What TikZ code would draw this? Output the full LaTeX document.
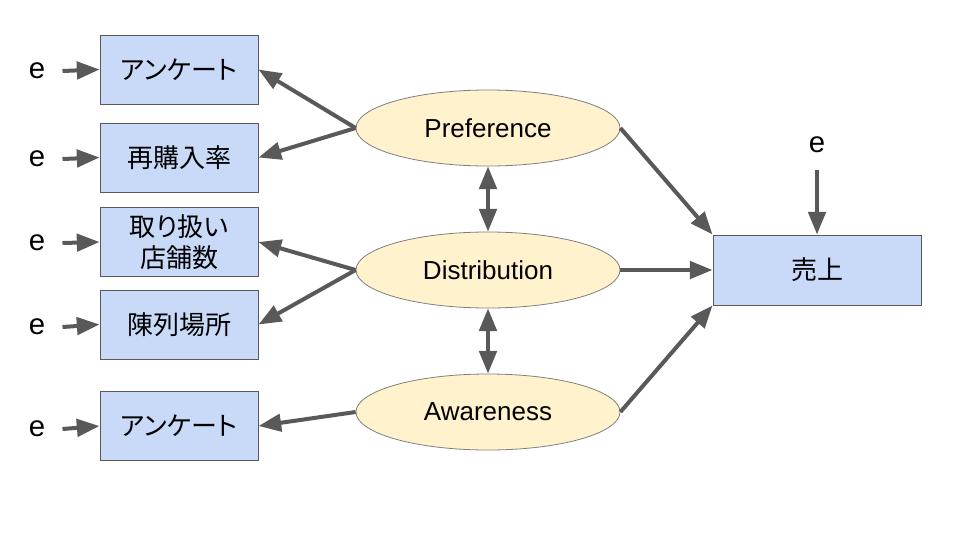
\documentclass[tikz,border=0pt]{standalone}
\usepackage{fontspec}
\setmainfont{Liberation Sans}
\newfontfamily\jpfont[RawFeature=+palt]{Noto Sans CJK JP}
\usetikzlibrary{arrows.meta,shapes.geometric}
\definecolor{boxfill}{HTML}{C9DAF8}
\definecolor{ellfill}{HTML}{FFF2CC}
\definecolor{arr}{HTML}{595959}
\definecolor{ellline}{HTML}{7F7F7F}
\tikzset{
  obsbox/.style={draw=arr, line width=0.75pt, fill=boxfill, minimum width=118.5pt, minimum height=51.75pt, inner sep=0pt, align=center, font=\fontsize{19.5}{23}\selectfont\jpfont},
  salesbox/.style={obsbox, minimum width=156pt, minimum height=52.5pt},
  latent/.style={ellipse, draw=ellline, line width=0.6pt, fill=ellfill, minimum width=198pt, minimum height=57pt, inner sep=0pt, font=\fontsize{19.5}{22}\selectfont},
  elab/.style={inner sep=0pt, outer sep=13pt, font=\fontsize{22}{24}\selectfont},
  link/.style={draw=arr, line width=3pt, -{Triangle[length=17pt,width=13pt]}},
  dlink/.style={draw=arr, line width=3pt, {Triangle[length=17pt,width=13pt]}-{Triangle[length=17pt,width=13pt]}}
}
\begin{document}
\begin{tikzpicture}[x=0.75pt,y=-0.75pt]
\useasboundingbox (0,0) rectangle (960,540);
\node[obsbox] (b1) at (179,69.5) {アンケート};
\node[obsbox] (b2) at (179,157.5) {再購入率};
\node[obsbox] (b3) at (179,242) {取り扱い\\店舗数};
\node[obsbox] (b4) at (179,324.5) {陳列場所};
\node[obsbox] (b5) at (179,426) {アンケート};
\node[salesbox] (s) at (817,270) {売上};
\node[latent] (pref) at (488,128) {Preference};
\node[latent] (dist) at (488,270) {Distribution};
\node[latent] (aw) at (488,412) {Awareness};
\node[elab] (e1) at (37,71) {e};
\node[elab] (e2) at (37,159) {e};
\node[elab] (e3) at (37,243) {e};
\node[elab] (e4) at (37,327) {e};
\node[elab] (e5) at (37,429) {e};
\node[elab] (es) at (817,145) {e};
\draw[link] (e1.east) -- (b1.west);
\draw[link] (e2.east) -- (b2.west);
\draw[link] (e3.east) -- (b3.west);
\draw[link] (e4.east) -- (b4.west);
\draw[link] (e5.east) -- (b5.west);
\draw[link] (es.south) -- (s.north);
\draw[link] (pref.west) -- (b1.east);
\draw[link] (pref.west) -- (b2.east);
\draw[link] (dist.west) -- (b3.east);
\draw[link] (dist.west) -- (b4.east);
\draw[link] (aw.west) -- (b5.east);
\draw[link] (pref.east) -- (s.north west);
\draw[link] (dist.east) -- (s.west);
\draw[link] (aw.east) -- (s.south west);
\draw[dlink] (pref.south) -- (dist.north);
\draw[dlink] (dist.south) -- (aw.north);
\end{tikzpicture}
\end{document}
